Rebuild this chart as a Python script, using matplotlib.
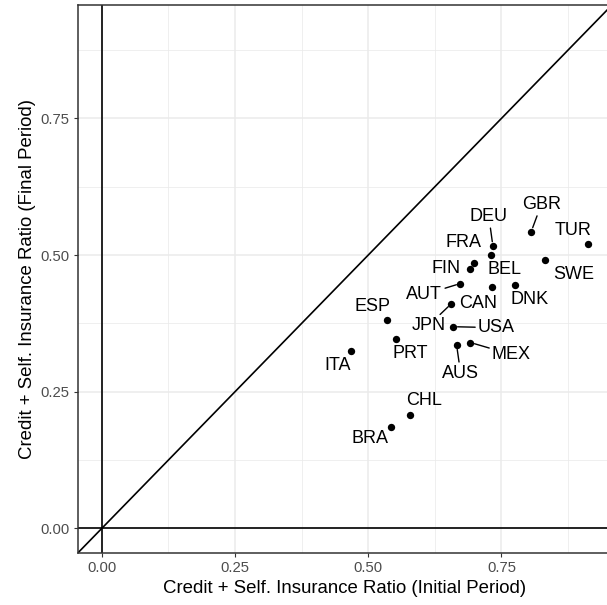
import matplotlib
matplotlib.use("Agg")
import matplotlib.pyplot as plt
from matplotlib.ticker import MultipleLocator

plt.rcParams['font.family'] = ['Liberation Sans', 'DejaVu Sans']

# 数据
countries = ["GBR", "TUR", "DEU", "BEL", "SWE", "FRA", "FIN", "CAN", "AUT", "DNK",
             "JPN", "ESP", "USA", "PRT", "MEX", "AUS", "ITA", "CHL", "BRA"]
initial_ratio = [0.806, 0.912, 0.734, 0.730, 0.831, 0.698, 0.692, 0.732, 0.673, 0.775,
                 0.656, 0.536, 0.660, 0.553, 0.692, 0.666, 0.468, 0.579, 0.543]
final_ratio = [0.543, 0.521, 0.517, 0.501, 0.491, 0.486, 0.474, 0.441, 0.448, 0.446,
               0.411, 0.382, 0.369, 0.346, 0.340, 0.335, 0.324, 0.208, 0.185]

# 标签偏移(像素)以及是否画引线
label_offsets = {
    "GBR": (10, 27, True), "TUR": (-15, 13, False), "DEU": (-4, 29, True),
    "BEL": (14, -15, False), "SWE": (29, -14, False), "FRA": (-10, 20, False),
    "FIN": (-24, 1, False), "CAN": (-14, -16, False), "AUT": (-36, -11, True),
    "DNK": (15, -15, False), "JPN": (-23, -22, True), "ESP": (-15, 13, False),
    "USA": (43, -1, True), "PRT": (14, -14, False), "MEX": (41, -12, True),
    "AUS": (4, -28, True), "ITA": (-14, -14, False), "CHL": (14, 14, False),
    "BRA": (-21, -11, False),
}

fig = plt.figure(figsize=(6.07, 6.05), dpi=100)
ax = fig.add_axes([77.5 / 607, 51.7 / 605, 534.5 / 607, 548.3 / 605])

m = max(max(initial_ratio), max(final_ratio))
lim = (-0.05 * m, 1.05 * m)
ax.set_xlim(lim)
ax.set_ylim(lim)

# 网格
ax.xaxis.set_major_locator(MultipleLocator(0.25))
ax.yaxis.set_major_locator(MultipleLocator(0.25))
ax.xaxis.set_minor_locator(MultipleLocator(0.125))
ax.yaxis.set_minor_locator(MultipleLocator(0.125))
ax.grid(which="major", color="#EBEBEB", lw=1.1)
ax.grid(which="minor", color="#EBEBEB", lw=0.55)
ax.set_axisbelow(True)
ax.tick_params(which="minor", length=0)
ax.tick_params(which="major", length=3, width=0.8, color="#333333",
               labelsize=10.7, labelcolor="#4D4D4D", pad=2.5)
ax.xaxis.set_major_formatter(plt.FormatStrFormatter("%.2f"))
ax.yaxis.set_major_formatter(plt.FormatStrFormatter("%.2f"))
for s in ax.spines.values():
    s.set_color("#333333")
    s.set_linewidth(1.1)

ax.axvline(0, color="black", lw=1.2, zorder=2)
ax.axhline(0, color="black", lw=1.2, zorder=2)
ax.axline((0, 0), slope=1, color="black", lw=1.2, zorder=2)

ax.scatter(initial_ratio, final_ratio, s=28, color="black", zorder=3, linewidths=0)

for c, x, y in zip(countries, initial_ratio, final_ratio):
    dx, dy, seg = label_offsets[c]
    arrow = None
    if seg:
        arrow = dict(arrowstyle="-", color="black", lw=1.0, shrinkA=0, shrinkB=3)
    ax.annotate(c, (x, y), xytext=(dx, dy), textcoords="offset pixels",
                ha="center", va="center", fontsize=13, color="black",
                arrowprops=arrow, zorder=4)

ax.set_xlabel("Credit + Self. Insurance Ratio (Initial Period)", fontsize=13.4, labelpad=4)
ax.set_ylabel("Credit + Self. Insurance Ratio (Final Period)", fontsize=13.4, labelpad=3)

plt.savefig("out.png", dpi=100)
